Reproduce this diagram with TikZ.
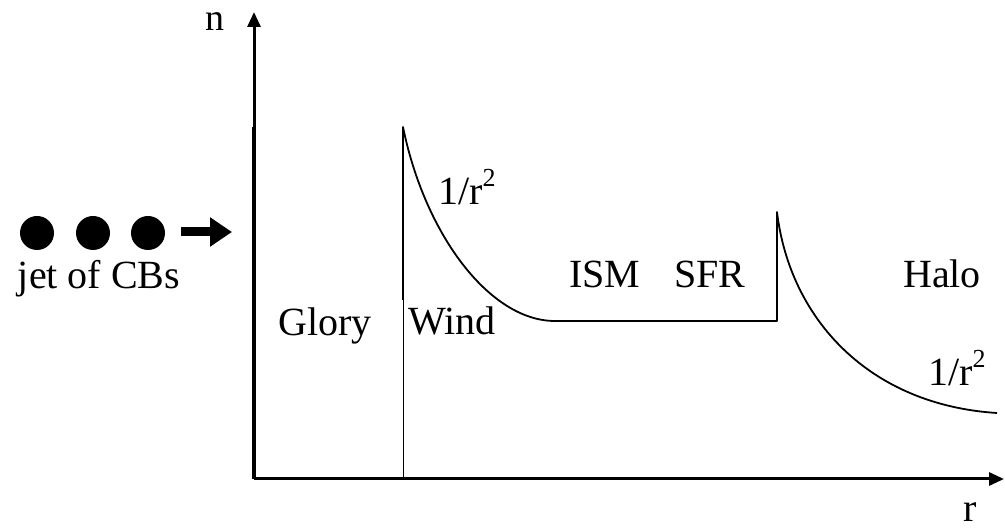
\documentclass[tikz,border=0pt]{standalone}
\usepackage{fontspec}
\setmainfont{Liberation Serif}
\usetikzlibrary{arrows.meta}
\begin{document}
\begin{tikzpicture}[x=1pt, y=-1pt, font=\fontsize{40}{44}\selectfont,
        axis/.style={line width=3pt, -{Triangle[length=15pt,width=13pt]}},
        curve/.style={line width=1.8pt, line join=round},
        every node/.style={anchor=base}]
    \useasboundingbox (0,0) rectangle (1005,529);
    % axes
    \coordinate (O) at (254,479);
    \coordinate (ntip) at (254,12);
    \coordinate (rtip) at (1004,479);
    \draw[axis] (O) -- (ntip);
    \draw[axis] (O) -- (rtip);
    \node[font=\fontsize{38}{40}\selectfont, inner sep=0pt, text height=0.46em] (nlab) at (215,31) {n};
    \node (rlab) at (970,521) {r};
    % density profile
    \draw[line width=4pt] (254,127) -- (254,479);
    \draw[line width=1pt] (403,479) -- (403,127);
    \draw[curve] (403,300) -- (403,127)
        .. controls (425,235) and (490,321) .. (555,321)
        -- (777,321) -- (777,212)
        .. controls (790,320) and (870,405) .. (997,413);
    % regions
    \node (glory) at (325,336) {Glory};
    \node (wind) at (452,335) {Wind};
    \node (ism) at (605,288) {ISM};
    \node (sfr) at (710,288) {SFR};
    \node (halo) at (942,288) {Halo};
    \node (lawA) at (467,205) {1/r\raisebox{0.45em}{\fontsize{26}{28}\selectfont 2}};
    \node (lawB) at (957,386) {1/r\raisebox{0.45em}{\fontsize{26}{28}\selectfont 2}};
    % jet of cannonballs
    \foreach \x [count=\i] in {37,93,148}
        \fill (\x,233) circle (17) coordinate (cb\i);
    \draw[line width=9pt, -{Triangle[length=22pt,width=28pt]}] (181,232) -- (232,232);
    \node (jet) at (99,289) {jet of CBs};
\end{tikzpicture}
\end{document}
